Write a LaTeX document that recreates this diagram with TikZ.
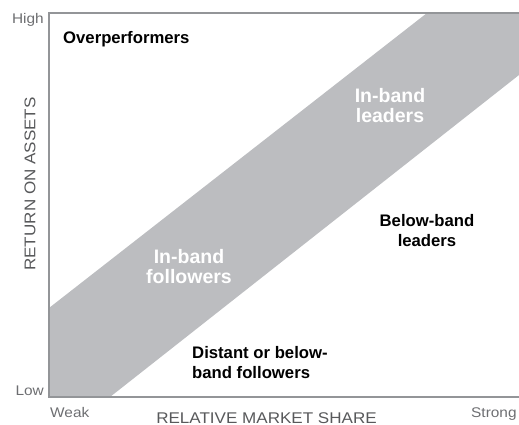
\documentclass[tikz,border=0pt]{standalone}
\usepackage{fontspec}
\setmainfont{Liberation Sans}
\newfontfamily\axisfont[FakeStretch=1.1]{Liberation Sans}
\definecolor{bandgray}{HTML}{BCBDC0}
\definecolor{axisgray}{HTML}{939598}
\definecolor{ticktext}{HTML}{6D6E71}
\definecolor{titletext}{HTML}{58595B}
\begin{document}
\begin{tikzpicture}[x=1pt,y=-1pt,
  ticklbl/.style={inner sep=0pt, text=ticktext, font=\axisfont\fontsize{14}{16}\selectfont},
  axistitle/.style={inner sep=0pt, text=titletext, font=\axisfont\fontsize{15.5}{18}\selectfont},
  zonelbl/.style={inner sep=0pt, font=\bfseries\fontsize{16.7}{20}\selectfont},
  bandlbl/.style={inner sep=0pt, text=white, align=center, font=\bfseries\fontsize{19.5}{20}\selectfont},
  axisline/.style={draw=axisgray, line width=1.6pt}
]
\useasboundingbox (0,0) rectangle (519,425);
% band
\fill[bandgray] (49,308) -- (427,13) -- (519,13) -- (519,75) -- (110,397) -- (49,397) -- cycle;
% axes
\coordinate (tr) at (519,13);
\coordinate (tl) at (49,13);
\coordinate (bl) at (49,397);
\coordinate (br) at (519,397);
\draw[axisline] (tr) -- (tl) -- (bl) -- (br);
% tick labels
\node[ticklbl, anchor=base east] (high) at (44,24) {High};
\node[ticklbl, anchor=base east] (low) at (44,395) {Low};
\node[ticklbl, anchor=base west] (weak) at (50,417) {Weak};
\node[ticklbl, anchor=base west] (strong) at (471,417) {Strong};
% axis titles
\node[axistitle, anchor=base] (xtitle) at (266.5,423) {RELATIVE MARKET SHARE};
\node[axistitle, rotate=90, anchor=center] (ytitle) at (30,184) {RETURN ON ASSETS};
% zone labels
\node[zonelbl, anchor=base west] (over) at (63,43.5) {Overperformers};
\node[bandlbl] (ibl) at (390,105.7) {In-band\\leaders};
\node[bandlbl] (ibf) at (189,267) {In-band\\followers};
\node[zonelbl, align=center] (bbl) at (427,230.5) {Below-band\\leaders};
\node[zonelbl, align=left, anchor=west] (dist) at (192,363) {Distant or below-\\band followers};
\end{tikzpicture}
\end{document}
